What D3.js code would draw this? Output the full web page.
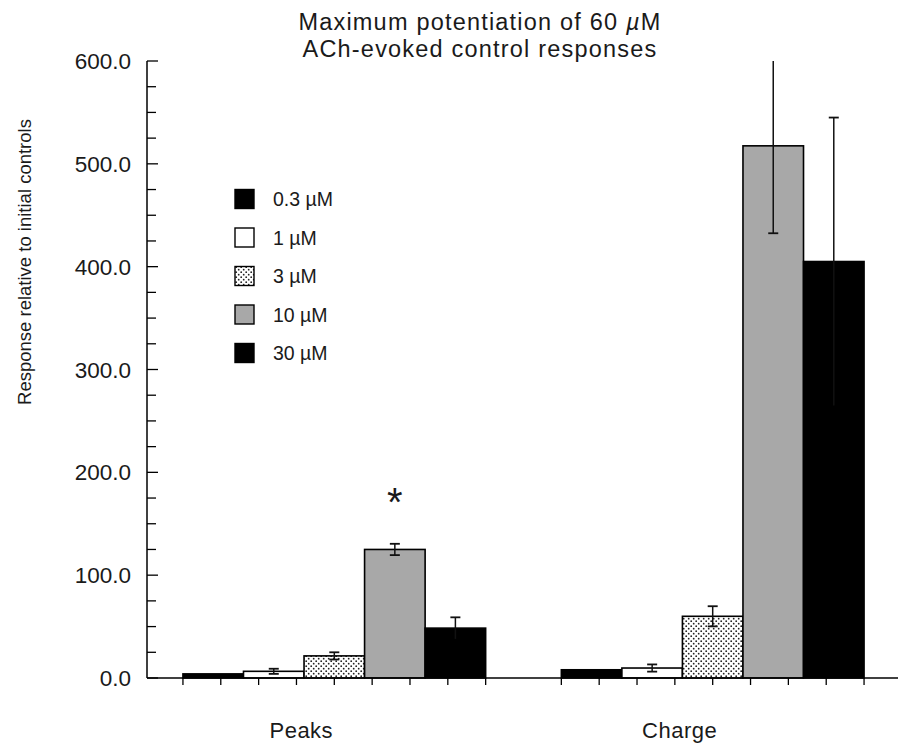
<!DOCTYPE html>
<html>
<head>
<meta charset="utf-8">
<script src="https://cdn.jsdelivr.net/npm/d3@7"></script>
<style>
  body { margin: 0; background: #fff; }
  text { font-family: "Liberation Sans", Arial, Helvetica, sans-serif; fill: #1a1a1a; }
</style>
</head>
<body>
<svg id="chart" width="898" height="745"></svg>
<script>
// values
var categories = ["Peaks", "Charge"];
var series = ["0.3 \u00b5M", "1 \u00b5M", "3 \u00b5M", "10 \u00b5M", "30 \u00b5M"];
var peaksValues = [4, 6.5, 21.5, 125, 48.5];
var peaksErrors = [0, 2.5, 3.5, 5.5, 10.5];
var chargeValues = [8, 9.7, 60, 517.5, 405];
var chargeErrors = [0, 3.5, 9.8, 85, 140];
var yTicks = [0, 100, 200, 300, 400, 500, 600];

var fills = ["#000", "#fff", "url(#stipple)", "#a8a8a8", "#000"];

var svg = d3.select("#chart");
var defs = svg.append("defs");
var pat = defs.append("pattern")
    .attr("id", "stipple")
    .attr("patternUnits", "userSpaceOnUse")
    .attr("width", 5).attr("height", 5);
pat.append("rect").attr("width", 5).attr("height", 5).attr("fill", "#fff");
pat.append("circle").attr("cx", 1.2).attr("cy", 1.2).attr("r", 0.9).attr("fill", "#222");
pat.append("circle").attr("cx", 3.7).attr("cy", 3.7).attr("r", 0.9).attr("fill", "#222");

var y = d3.scaleLinear().domain([0, 600]).range([678, 61]);

var x0 = d3.scaleBand().domain(categories)
    .range([147, 900]).paddingInner(0.2).paddingOuter(0.095);
var x1 = d3.scaleBand().domain(series).range([0, x0.bandwidth()]).padding(0);

var rows = [];
categories.forEach(function(c, ci) {
  var vals = ci == 0 ? peaksValues : chargeValues;
  var errs = ci == 0 ? peaksErrors : chargeErrors;
  series.forEach(function(s, si) {
    rows.push({cat: c, ser: s, i: si, v: vals[si], e: errs[si]});
  });
});

// bars
var g = svg.append("g");
g.selectAll("rect.bar").data(rows).enter().append("rect")
    .attr("class", "bar")
    .attr("x", function(d) { return x0(d.cat) + x1(d.ser); })
    .attr("y", function(d) { return y(d.v); })
    .attr("width", x1.bandwidth())
    .attr("height", function(d) { return y(0) - y(d.v); })
    .attr("fill", function(d) { return fills[d.i]; })
    .attr("stroke", "#000")
    .attr("stroke-width", 1.6);

// error bars
var eb = g.selectAll("g.err").data(rows.filter(function(d) { return d.e > 0; }))
  .enter().append("g").attr("class", "err")
  .attr("transform", function(d) { return "translate(" + (x0(d.cat) + x1(d.ser) + x1.bandwidth() / 2) + ",0)"; });
eb.append("line")
    .attr("y1", function(d) { return y(Math.min(600, d.v + d.e)); })
    .attr("y2", function(d) { return y(d.v - d.e); })
    .attr("stroke", "#111").attr("stroke-width", 1.5);
eb.filter(function(d) { return d.v + d.e <= 600; }).append("line")
    .attr("x1", -5).attr("x2", 5)
    .attr("y1", function(d) { return y(d.v + d.e); })
    .attr("y2", function(d) { return y(d.v + d.e); })
    .attr("stroke", "#111").attr("stroke-width", 1.8);
eb.append("line")
    .attr("x1", -5).attr("x2", 5)
    .attr("y1", function(d) { return y(d.v - d.e); })
    .attr("y2", function(d) { return y(d.v - d.e); })
    .attr("stroke", function(d) { return d.i == 0 || d.i == 4 ? "none" : "#111"; })
    .attr("stroke-width", 1.8);

// y axis, ticks inward
var yAxis = svg.append("g").attr("transform", "translate(147,0)");
yAxis.append("line").attr("y1", y(600)).attr("y2", y(0)).attr("stroke", "#000").attr("stroke-width", 1.5);
yAxis.selectAll("line.minor").data(d3.range(0, 601, 25)).enter().append("line")
    .attr("class", "minor")
    .attr("x1", 0).attr("x2", function(d) { return d % 100 == 0 ? 11 : 9; })
    .attr("y1", function(d) { return y(d); }).attr("y2", function(d) { return y(d); })
    .attr("stroke", "#000").attr("stroke-width", 1.3);
yAxis.selectAll("text").data(yTicks).enter().append("text")
    .attr("x", -16).attr("y", function(d) { return y(d); })
    .attr("dy", "0.36em")
    .attr("text-anchor", "end")
    .style("font-size", "22.5px")
    .text(d3.format(".1f"));

// x axis
svg.append("line").attr("x1", 147).attr("x2", 898).attr("y1", y(0)).attr("y2", y(0))
    .attr("stroke", "#000").attr("stroke-width", 1.5);
categories.forEach(function(c) {
  var xt = d3.scaleLinear().domain([0, 8]).range([x0(c), x0(c) + x0.bandwidth()]);
  svg.selectAll(null).data(d3.range(9)).enter().append("line")
      .attr("x1", function(d) { return xt(d); }).attr("x2", function(d) { return xt(d); })
      .attr("y1", y(0)).attr("y2", y(0) + 7)
      .attr("stroke", "#000").attr("stroke-width", 1.3);
});
svg.selectAll("text.cat").data(categories).enter().append("text")
    .attr("class", "cat")
    .attr("x", function(d) { return x0(d) + x0.bandwidth() / 2 - 33; })
    .attr("y", 738)
    .attr("text-anchor", "middle")
    .style("font-size", "22px")
    .style("letter-spacing", "0.5px")
    .text(function(d) { return d; });

// y title
svg.append("text")
    .attr("transform", "translate(31,262) rotate(-90)")
    .attr("text-anchor", "middle")
    .style("font-size", "18.5px")
    .text("Response relative to initial controls");

// title
var title = svg.append("text").attr("x", 480).attr("text-anchor", "middle")
    .style("font-size", "23.5px").style("letter-spacing", "1.2px");
var t1 = title.append("tspan").attr("x", 480).attr("y", 30);
t1.append("tspan").text("Maximum potentiation of 60 ");
t1.append("tspan").style("font-style", "italic").text("\u00b5");
t1.append("tspan").text("M");
title.append("tspan").attr("x", 480).attr("y", 57).text("ACh-evoked control responses");

// significance star
svg.append("text")
    .attr("x", x0("Peaks") + x1(series[3]) + x1.bandwidth() / 2)
    .attr("y", 516)
    .attr("text-anchor", "middle")
    .style("font-size", "40px")
    .text("*");

// legend
var leg = svg.append("g").attr("transform", "translate(235,199)");
var li = leg.selectAll("g").data(series).enter().append("g")
    .attr("transform", function(d, i) { return "translate(0," + (i * 38.5) + ")"; });
li.append("rect").attr("x", 0).attr("y", -9.5).attr("width", 19).attr("height", 19)
    .attr("fill", function(d, i) { return fills[i]; })
    .attr("stroke", "#000").attr("stroke-width", 1.4);
li.append("text").attr("x", 38).attr("dy", "0.36em").style("font-size", "19.5px")
    .text(function(d) { return d; });
</script>
</body>
</html>
